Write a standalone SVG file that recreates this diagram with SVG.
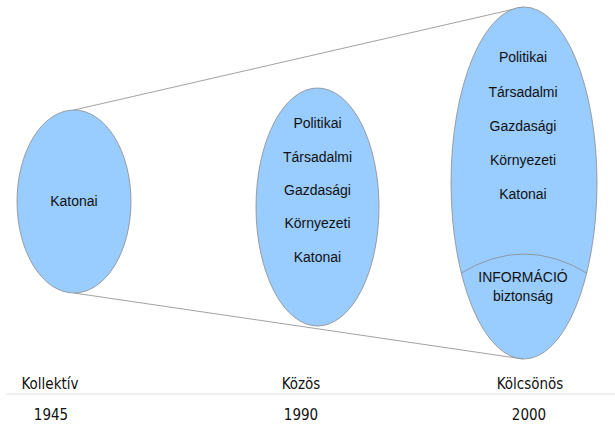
<svg xmlns="http://www.w3.org/2000/svg" width="615" height="424" viewBox="0 0 615 424">
<style>
.node ellipse{fill:#99ccff;stroke:#8a8a8a;stroke-width:0.8}
.t{font-family:"Liberation Sans",Arial,sans-serif;font-size:14px;fill:#111;text-anchor:middle}
.b{font-family:"DejaVu Sans Condensed","DejaVu Sans",sans-serif;font-size:15px;fill:#111;text-anchor:middle}
.c{stroke:#8a8a8a;stroke-width:0.8;fill:none}
</style>
<rect width="615" height="424" fill="#fff"/>
<g id="connectors">
<line class="c" x1="74" y1="110" x2="523" y2="7"/>
<line class="c" x1="74" y1="293" x2="523" y2="359"/>
</g>
<g id="node-1945" class="node">
<ellipse cx="74" cy="201.5" rx="57" ry="91.5"/>
<text class="t" x="74" y="206">Katonai</text>
</g>
<g id="node-1990" class="node">
<ellipse cx="317.5" cy="207" rx="61.5" ry="119"/>
<text class="t" x="317.5" y="128">Politikai</text>
<text class="t" x="317.5" y="162">Társadalmi</text>
<text class="t" x="317.5" y="195">Gazdasági</text>
<text class="t" x="317.5" y="228">Környezeti</text>
<text class="t" x="317.5" y="262">Katonai</text>
</g>
<g id="node-2000" class="node">
<ellipse cx="524" cy="183" rx="73" ry="176"/>
<path class="c" d="M461.3,273 Q524,235 586.7,273"/>
<text class="t" x="523" y="62">Politikai</text>
<text class="t" x="523" y="97">Társadalmi</text>
<text class="t" x="523" y="131">Gazdasági</text>
<text class="t" x="523" y="165">Környezeti</text>
<text class="t" x="523" y="199">Katonai</text>
<text class="t" x="523" y="282">INFORMÁCIÓ</text>
<text class="t" x="523" y="301">biztonság</text>
</g>
<g id="axis">
<line x1="6" y1="394" x2="615" y2="394" stroke="#e0e0e0" stroke-width="1"/>
<text class="b" x="50" y="389">Kollektív</text>
<text class="b" x="301" y="389">Közös</text>
<text class="b" x="530" y="389">Kölcsönös</text>
<text class="b" x="51" y="420">1945</text>
<text class="b" x="301" y="420">1990</text>
<text class="b" x="529" y="420">2000</text>
</g>
</svg>
